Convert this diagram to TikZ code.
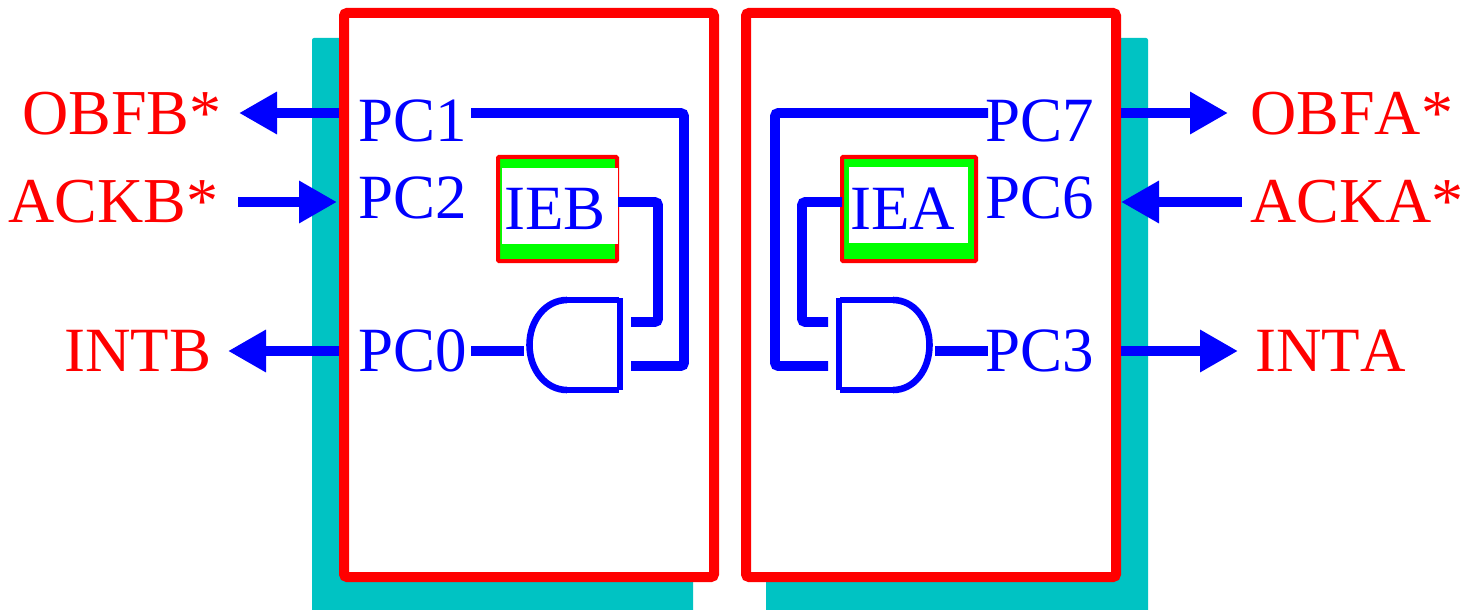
\documentclass[tikz,border=0pt]{standalone}
\usepackage{fontspec}
\setmainfont{Liberation Serif}
\newfontfamily\signalfont[Kerning=Off]{Liberation Serif}
\usepackage{xcolor}
\usetikzlibrary{arrows.meta}
\definecolor{chipteal}{RGB}{0,195,195}
\tikzset{
  chipbox/.style={draw=red, fill=white, line width=5pt, rounded corners=1.5pt, inner sep=0pt, minimum width=185pt, minimum height=282pt},
  regbox/.style={draw=red, fill=green, line width=2pt, rounded corners=0.5pt, inner sep=0pt, minimum height=52pt},
  pinlabel/.style={text=blue, font=\fontsize{31.5}{36}\selectfont, inner sep=0pt},
  siglabel/.style={text=red, font=\signalfont\fontsize{32}{36}\selectfont, inner sep=0pt},
  intlabel/.style={text=red, font=\signalfont\fontsize{31.5}{36}\selectfont, inner sep=0pt},
  wire/.style={draw=blue, line width=4.8pt, rounded corners=1.5pt},
  gateline/.style={draw=blue, line width=3.3pt},
  sigarrow/.style={draw=blue, line width=4.8pt, -{Triangle[length=19pt,width=20pt]}}
}

\begin{document}
\begin{tikzpicture}[x=0.5pt,y=-0.5pt]
\useasboundingbox (0,0) rectangle (1478,610);

\coordinate (rowa) at (0,113);
\coordinate (rowb) at (0,202);
\coordinate (rowc) at (0,351);

% boards behind the chips
\fill[chipteal, rounded corners=1pt] (312,38) rectangle (693,620);
\fill[chipteal, rounded corners=1pt] (766,38) rectangle (1148,620);

\node[chipbox] (chipb) at (529,295) {};
\node[chipbox] (chipa) at (931,295) {};

% enable registers
\node[regbox, minimum width=59.5pt] (ieb) at (557.5,209) {};
\node[regbox, minimum width=67pt] (iea) at (909,209) {};
\fill[white] (502,168) rectangle (618,244);
\fill[white] (849,167) rectangle (968,243);
\node[pinlabel, anchor=base west] (iebtext) at (504,229) {IEB};
\node[pinlabel, anchor=base west] (ieatext) at (850,229) {IEA};

% pin names
\node[pinlabel, anchor=base west] (pcone) at (358,141) {PC1};
\node[pinlabel, anchor=base west] (pctwo) at (358,218) {PC2};
\node[pinlabel, anchor=base west] (pczero) at (358,371) {PC0};
\node[pinlabel, anchor=base west] (pcseven) at (985,141) {PC7};
\node[pinlabel, anchor=base west] (pcsix) at (985,218) {PC6};
\node[pinlabel, anchor=base west] (pcthree) at (985,371) {PC3};

% signal names
\node[siglabel, anchor=base west] (obfb) at (22,134) {OBFB*};
\node[siglabel, anchor=base west] (ackb) at (8,222) {ACKB*};
\node[intlabel, anchor=base west] (intb) at (64,371) {INTB};
\node[siglabel, anchor=base west] (obfa) at (1250,134) {OBFA*};
\node[siglabel, anchor=base west] (acka) at (1250,222) {ACKA*};
\node[intlabel, anchor=base west] (inta) at (1255,371) {INTA};

% gate B
\coordinate (gbtop) at (567,300);
\coordinate (gbbot) at (567,390);
\draw[gateline] (gbtop) -- (619,300);
\draw[gateline] (gbbot) -- (619,390);
\draw[gateline] (620,298) -- (620,390);
\draw[gateline] (gbtop) .. controls (546,300) and (529.5,320) .. (529.5,345) .. controls (529.5,370) and (546,390) .. (gbbot);

% gate A
\coordinate (gatop) at (893,300);
\coordinate (gabot) at (893,390);
\draw[gateline] (gatop) -- (840,300);
\draw[gateline] (gabot) -- (840,390);
\draw[gateline] (839,298) -- (839,390);
\draw[gateline] (gatop) .. controls (914,300) and (929.5,320) .. (929.5,345) .. controls (929.5,370) and (914,390) .. (gabot);

% wires inside
\coordinate (gbina) at (631,322);
\coordinate (gbinb) at (631,366);
\coordinate (gbout) at (524,351);
\coordinate (gaina) at (828,322);
\coordinate (gainb) at (828,366);
\coordinate (gaout) at (935,351);
\coordinate (iebout) at (618,202);
\coordinate (ieaout) at (842,202);
\coordinate (pcsevenend) at (988,113);
\coordinate (pcthreeend) at (988,351);
\coordinate (pconeend) at (471,113);
\coordinate (pczeroend) at (471,351);
\draw[wire] (pconeend) -- (684,113) -- (684,366) -- (gbinb);
\draw[wire] (iebout) -- (658,202) -- (658,322) -- (gbina);
\draw[wire] (pczeroend) -- (gbout);
\draw[wire] (pcsevenend) -- (775,113) -- (775,366) -- (gainb);
\draw[wire] (ieaout) -- (802,202) -- (802,322) -- (gaina);
\draw[wire] (gaout) -- (pcthreeend);

% arrows outside
\coordinate (tipobfb) at (239,113);
\coordinate (tailackb) at (238,202);
\coordinate (tipackb) at (337,202);
\coordinate (tipintb) at (228,351);
\coordinate (tipobfa) at (1228,113);
\coordinate (tailacka) at (1242,202);
\coordinate (tipinta) at (1238,351);
\draw[sigarrow] (chipb.west |- rowa) -- (tipobfb);
\draw[sigarrow] (tailackb) -- (tipackb);
\draw[sigarrow] (chipb.west |- rowc) -- (tipintb);
\draw[sigarrow] (chipa.east |- rowa) -- (tipobfa);
\draw[sigarrow] (tailacka) -- (chipa.east |- rowb);
\draw[sigarrow] (chipa.east |- rowc) -- (tipinta);
\end{tikzpicture}
\end{document}
